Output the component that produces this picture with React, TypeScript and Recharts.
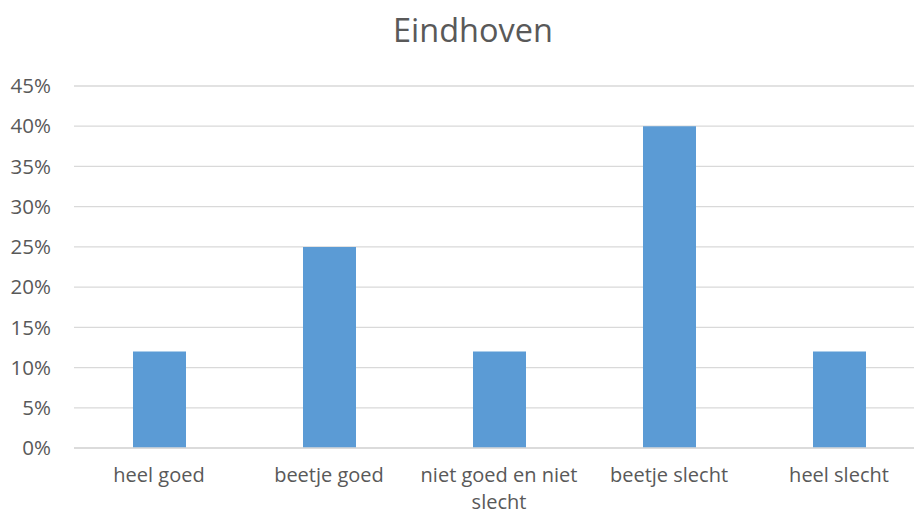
import React from "react";
import { BarChart, Bar, XAxis, YAxis, CartesianGrid } from "recharts";

const categories = ["heel goed", "beetje goed", "niet goed en niet slecht", "beetje slecht", "heel slecht"];
const shares = [0.12, 0.25, 0.12, 0.4, 0.12];
const yTicks = [0, 0.05, 0.1, 0.15, 0.2, 0.25, 0.3, 0.35, 0.4, 0.45];
const title = "Eindhoven";

const data = categories.map((name, i) => ({ name, value: shares[i] }));

const FONT = "'Open Sans', sans-serif";
const TICK_SIZE = 20.5;
const CAT_SIZE = 20;
const TEXT_COLOR = "#595959";
const GRID_COLOR = "#D9D9D9";
const BAR_COLOR = "#5B9BD5";

const pct = (v: number) => `${Math.round(v * 100)}%`;

let measureCtx: CanvasRenderingContext2D | null = null;
const measure = (s: string) => {
  if (!measureCtx) {
    measureCtx = document.createElement("canvas").getContext("2d");
  }
  if (!measureCtx) return s.length * CAT_SIZE * 0.5;
  measureCtx.font = `${CAT_SIZE}px 'Open Sans'`;
  return measureCtx.measureText(s).width;
};

// greedy word wrap of a category label into lines no wider than maxWidth
const wrap = (label: string, maxWidth: number) => {
  const words = label.split(" ");
  const lines: string[] = [];
  let cur = "";
  for (const w of words) {
    const next = cur ? `${cur} ${w}` : w;
    if (cur && measure(next) > maxWidth) {
      lines.push(cur);
      cur = w;
    } else {
      cur = next;
    }
  }
  if (cur) lines.push(cur);
  return lines;
};

const CategoryTick = (props: any) => {
  const { x, payload } = props;
  const lines = wrap(String(payload.value), 170);
  return (
    <text
      x={x}
      y={481.5}
      textAnchor="middle"
      fill={TEXT_COLOR}
      style={{ fontFamily: FONT, fontSize: CAT_SIZE }}
    >
      {lines.map((l, i) => (
        <tspan key={i} x={x} dy={i === 0 ? 0 : 27.3}>
          {l}
        </tspan>
      ))}
    </text>
  );
};

export default function App() {
  return (
    <div
      style={{
        position: "absolute",
        left: 0,
        top: 0,
        width: 914,
        height: 515,
        overflow: "hidden",
        background: "#fff",
      }}
    >
      <svg width={914} height={60} style={{ position: "absolute", left: 0, top: 0 }}>
        <text x={473} y={42} textAnchor="middle" fill={TEXT_COLOR} style={{ fontFamily: FONT, fontSize: 32.5 }}>
          {title}
        </text>
      </svg>
      <div style={{ position: "absolute", left: 0, top: 0 }}>
        <BarChart
          width={924}
          height={515}
          data={data}
          margin={{ top: 86, right: 0, bottom: 0, left: 0 }}
        >
          <CartesianGrid vertical={false} stroke={GRID_COLOR} strokeWidth={1.3} />
          <XAxis
            dataKey="name"
            axisLine={{ stroke: GRID_COLOR, strokeWidth: 1.3 }}
            tickLine={false}
            interval={0}
            height={67}
            tick={<CategoryTick />}
          />
          <YAxis
            width={74}
            domain={[0, 0.45]}
            ticks={yTicks}
            tickFormatter={pct}
            axisLine={false}
            tickLine={false}
            tickMargin={17}
            tick={{ fill: TEXT_COLOR, fontFamily: FONT, fontSize: TICK_SIZE }}
          />
          <Bar dataKey="value" fill={BAR_COLOR} barSize={53} isAnimationActive={false} />
        </BarChart>
      </div>
    </div>
  );
}
